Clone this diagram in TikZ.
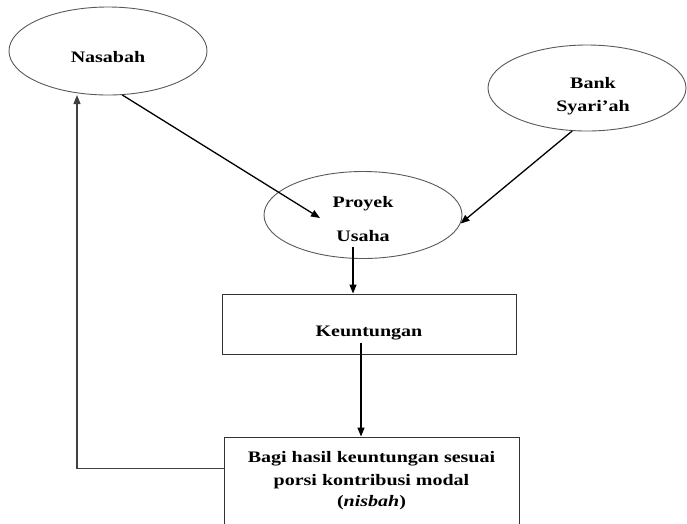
\documentclass[tikz,border=0pt]{standalone}
\usepackage{fontspec}
\newfontfamily\tnr[FakeStretch=1.25]{Liberation Serif}
\usetikzlibrary{shapes.geometric,arrows.meta,calc}
\tikzset{
  oval/.style={ellipse, draw=black!65, line width=0.9pt, inner sep=0pt},
  boxnode/.style={rectangle, draw=black!80, line width=0.9pt, inner sep=0pt},
  txt/.style={font=\tnr\bfseries\fontsize{16}{22}\selectfont, inner sep=0pt, anchor=base},
  arr/.style={line width=1.3pt, -{Triangle[length=9pt,width=7pt]}},
  fbline/.style={line width=1.1pt, draw=black!75, -{Triangle[length=9pt,width=7pt]}}
}
\begin{document}
\begin{tikzpicture}[x=1pt,y=-1pt]
\useasboundingbox (0,0) rectangle (687,523);
% shapes
\node[oval, minimum width=198pt, minimum height=88pt] (nas) at (108,51) {};
\node[oval, minimum width=198pt, minimum height=86pt] (bank) at (587,88) {};
\node[oval, minimum width=198pt, minimum height=87pt] (proyek) at (363,215) {};
\node[boxnode, minimum width=294pt, minimum height=60pt] (keu) at (369,324) {};
\node[boxnode, minimum width=295pt, minimum height=93pt] (bagi) at (371.5,483.5) {};
% texts
\node[txt] (nasT) at (108,62) {Nasabah};
\node[txt] (bankT1) at (593,88) {Bank};
\node[txt] (bankT2) at (593,111) {Syari’ah};
\node[txt] (proT1) at (363,207) {Proyek};
\node[txt] (proT2) at (363,241.5) {Usaha};
\node[txt] (keuT) at (369,336) {Keuntungan};
\node[txt] (bagiT1) at (371.5,462) {Bagi hasil keuntungan sesuai};
\node[txt] (bagiT2) at (371.5,485) {porsi kontribusi modal};
\node[txt] (bagiT3) at (371.5,506) {(\textit{nisbah})};
% connectors
\coordinate (pin) at (320,218);
\draw[arr] (nas.-72) -- (pin);
\draw[arr] (bank.-109) -- (proyek.-5);
\coordinate (pout) at (353,247);
\draw[arr] (pout) -- (pout |- keu.north);
\coordinate (kout) at (361,343);
\draw[arr] (kout) -- (kout |- bagi.north);
\coordinate (fb) at ($(bagi.north west)+(0,32)$);
\coordinate (fbtop) at (77,95);
\draw[fbline] (fb) -| (fbtop);
\end{tikzpicture}
\end{document}
